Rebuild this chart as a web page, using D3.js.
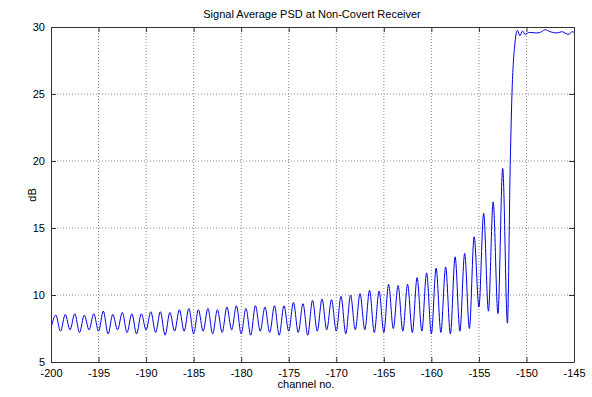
<!DOCTYPE html>
<html>
<head>
<meta charset="utf-8">
<script src="https://cdn.jsdelivr.net/npm/d3@7"></script>
<style>
  body { margin: 0; background: #fff; }
  .axis text { font-family: "Liberation Sans", Arial, sans-serif; font-size: 11px; fill: #000; }
  .axis path, .axis line { stroke: #333; }
  .grid line { stroke: #888; stroke-dasharray: 1,2; }
</style>
</head>
<body>
<div id="chart"></div>
<script>
// channel numbers (trough of each ripple sits on the channel, peak half a channel later)
var channels = [-200, -199, -198, -197, -196, -195, -194, -193, -192, -191,
                -190, -189, -188, -187, -186, -185, -184, -183, -182, -181,
                -180, -179, -178, -177, -176, -175, -174, -173, -172, -171,
                -170, -169, -168, -167, -166, -165, -164, -163, -162, -161,
                -160, -159, -158, -157, -156, -155, -154, -153, -152];

var troughDb = [7.5, 7.3, 7.4, 7.2, 7.4, 7.3, 7.1, 7.4, 7.2, 7.1,
                7.4, 7.2, 7.0, 7.3, 7.3, 7.1, 7.3, 7.1, 7.2, 7.4,
                7.1, 7.0, 7.3, 7.2, 7.0, 7.3, 7.2, 7.0, 7.3, 7.4,
                7.3, 7.1, 7.4, 7.4, 7.2, 7.2, 7.5, 7.3, 7.2, 7.3,
                7.1, 7.2, 7.1, 7.3, 7.5, 9.1, 8.8, 8.6, 7.9];

var peakDb = [8.5, 8.55, 8.6, 8.5, 8.6, 8.8, 8.55, 8.7, 8.6, 8.6,
              8.75, 8.75, 8.7, 8.9, 9.0, 8.9, 9.0, 8.9, 9.1, 9.2,
              9.0, 9.2, 9.1, 9.2, 9.2, 9.45, 9.35, 9.6, 9.7, 9.65,
              9.9, 10.0, 10.1, 10.35, 10.3, 10.8, 10.7, 10.8, 11.3, 11.65,
              12.0, 12.1, 12.85, 13.1, 14.35, 16.1, 16.95, 19.45];

// the jump up to the flat part and the flat part itself
var tailCh = [-151.7, -151.5, -151.25, -150.95, -150.7, -150.4, -150.15, -149.7, -148.9,
              -148.4, -148.05, -147.5, -146.8, -146.3, -145.6, -145.15, -145];
var tailDb = [20.0, 25.5, 28.5, 29.75, 29.35, 29.7, 29.45, 29.6, 29.55,
              29.65, 29.8, 29.65, 29.55, 29.65, 29.45, 29.65, 29.6];

var xTicks = [-200, -195, -190, -185, -180, -175, -170, -165, -160, -155, -150, -145];
var yTicks = [5, 10, 15, 20, 25, 30];

// build the line points
var data = [];
channels.forEach(function(c, i) {
  data.push({ch: c, db: troughDb[i]});
  if (peakDb[i] !== undefined) data.push({ch: c + 0.5, db: peakDb[i]});
});
tailCh.forEach(function(c, i) { data.push({ch: c, db: tailDb[i]}); });

var margin = {top: 27, right: 18, bottom: 35, left: 51},
    width = 592 - margin.left - margin.right,
    height = 397 - margin.top - margin.bottom;

var root = d3.select("#chart").append("svg")
    .attr("width", 592)
    .attr("height", 397);

var svg = root.append("g")
    .attr("transform", "translate(" + margin.left + "," + margin.top + ")");

var x = d3.scaleLinear().domain([-200, -145]).range([0, width]);
var y = d3.scaleLinear().domain([5, 30]).range([height, 0]);

// dotted grid
svg.append("g").attr("class", "grid")
  .selectAll("line").data(xTicks.slice(1, -1)).enter().append("line")
    .attr("x1", function(d) { return x(d); })
    .attr("x2", function(d) { return x(d); })
    .attr("y1", 0).attr("y2", height);
svg.append("g").attr("class", "grid")
  .selectAll("line").data(yTicks.slice(1, -1)).enter().append("line")
    .attr("y1", function(d) { return y(d); })
    .attr("y2", function(d) { return y(d); })
    .attr("x1", 0).attr("x2", width);

// the curve
svg.append("clipPath").attr("id", "clip")
  .append("rect").attr("width", width).attr("height", height);

svg.append("path")
  .datum(data)
  .attr("clip-path", "url(#clip)")
  .attr("fill", "none")
  .attr("stroke", "#0000e6")
  .attr("stroke-width", 1)
  .attr("d", d3.line()
    .x(function(d) { return x(d.ch); })
    .y(function(d) { return y(d.db); })
    .curve(d3.curveMonotoneX));

// axes, ticks pointing inward like matlab
var fmt = function(d) { return String(d); };
svg.append("g").attr("class", "axis")
  .attr("transform", "translate(0," + height + ")")
  .call(d3.axisBottom(x).tickValues(xTicks).tickFormat(fmt).tickSize(-5).tickSizeOuter(0).tickPadding(7));
svg.append("g").attr("class", "axis")
  .call(d3.axisLeft(y).tickValues(yTicks).tickFormat(fmt).tickSize(-5).tickSizeOuter(0).tickPadding(6));
svg.append("g").attr("class", "axis")
  .call(d3.axisTop(x).tickValues(xTicks).tickFormat("").tickSize(-5).tickSizeOuter(0));
svg.append("g").attr("class", "axis")
  .attr("transform", "translate(" + width + ",0)")
  .call(d3.axisRight(y).tickValues(yTicks).tickFormat("").tickSize(-5).tickSizeOuter(0));

// labels
var font = "'Liberation Sans', Arial, sans-serif";
root.append("text")
  .attr("x", 312).attr("y", 18)
  .attr("text-anchor", "middle")
  .style("font-family", font).style("font-size", "11px")
  .text("Signal Average PSD at Non-Covert Receiver");
root.append("text")
  .attr("x", 306).attr("y", 388)
  .attr("text-anchor", "middle")
  .style("font-family", font).style("font-size", "11px")
  .text("channel no.");
root.append("text")
  .attr("transform", "translate(36,195) rotate(-90)")
  .attr("text-anchor", "middle")
  .style("font-family", font).style("font-size", "11px")
  .text("dB");
</script>
</body>
</html>
